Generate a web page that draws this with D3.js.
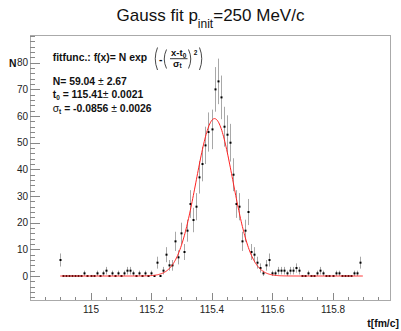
<!DOCTYPE html>
<html><head><meta charset="utf-8">
<script src="https://cdn.jsdelivr.net/npm/d3@7"></script>
<style>
body{margin:0;background:#fff}
svg{display:block}
text{font-family:"Liberation Sans",Arial,Helvetica,sans-serif}
</style>
</head><body>
<svg id="c" width="401" height="331"></svg>
<script>
// ---- data ----
const binStart = 114.90;
const binWidth = 0.01;
const counts = [
  6, 0, 0, 0, 0, 0, 0, 0, 1, 0,
  0, 0, 1, 0, 1, 2, 0, 1, 0, 1,
  0, 1, 2, 2, 1, 0, 1, 0, 1, 0,
  1, 0, 5, 0, 2, 8, 4, 4, 13, 7,
  16, 9, 17, 27, 21, 26, 37, 42, 49, 54,
  55, 70, 73, 67, 56, 53, 50, 38, 27, 26,
  13, 17, 24, 9, 8, 5, 3, 1, 4, 6,
  1, 1, 2, 2, 2, 1, 2, 2, 3, 2,
  0, 0, 1, 0, 0, 1, 2, 1, 0, 0,
  0, 1, 1, 0, 0, 0, 0, 1, 1, 5
];
const fitN = 59.04, fitT0 = 115.41, fitSigma = -0.0856;
const fitRange = [114.90, 115.90];
const xMajorTicks = [115, 115.2, 115.4, 115.6, 115.8];
const xMinorTicks = [114.85, 114.9, 114.95, 115.05, 115.1, 115.15, 115.25, 115.3, 115.35, 115.45, 115.5, 115.55, 115.65, 115.7, 115.75, 115.85, 115.9, 115.95];
const yMajorTicks = [0, 10, 20, 30, 40, 50, 60, 70, 80];
const yMinorTicks = [-8, -6, -4, -2, 2, 4, 6, 8, 12, 14, 16, 18, 22, 24, 26, 28, 32, 34, 36, 38, 42, 44, 46, 48, 52, 54, 56, 58, 62, 64, 66, 68, 72, 74, 76, 78, 82, 84, 86, 88, 90];

// ---- drawing ----
const svg = d3.select("#c");
svg.append("rect").attr("width", 401).attr("height", 331).attr("fill", "#fff");

const L = 30, R = 390, T = 35, B = 300;
const x = d3.scaleLinear().domain([114.8, 115.99]).range([L, R]);
const y = d3.scaleLinear().domain([-9, 90.4]).range([B, T]);

const axisCol = "#888";

// frame
svg.append("rect").attr("x", L).attr("y", T).attr("width", R - L).attr("height", B - T)
  .attr("fill", "none").attr("stroke", "#aaa").attr("stroke-width", 1).attr("shape-rendering", "crispEdges");

// x axis
const gx = svg.append("g").attr("transform", `translate(0,${B})`);
gx.call(d3.axisBottom(x).tickValues(xMajorTicks).tickSizeInner(-7).tickSizeOuter(0).tickPadding(6)
  .tickFormat(d3.format("~g")));
const gxm = svg.append("g").attr("transform", `translate(0,${B})`);
gxm.call(d3.axisBottom(x).tickValues(xMinorTicks).tickSizeInner(-3.5).tickSizeOuter(0).tickFormat(""));

// y axis
const gy = svg.append("g").attr("transform", `translate(${L},0)`);
gy.call(d3.axisLeft(y).tickValues(yMajorTicks).tickSizeInner(-10).tickSizeOuter(0).tickPadding(2));
const gym = svg.append("g").attr("transform", `translate(${L},0)`);
gym.call(d3.axisLeft(y).tickValues(yMinorTicks).tickSizeInner(-5).tickSizeOuter(0).tickFormat(""));

[gx, gxm, gy, gym].forEach(g => {
  g.select(".domain").remove();
  g.selectAll(".tick line").attr("stroke", axisCol).attr("shape-rendering", "crispEdges");
  g.selectAll(".tick text").attr("fill", "#222").style("font-size", "10px")
    .style("font-family", '"Liberation Sans",Arial,Helvetica,sans-serif');
});

// axis titles
svg.append("text").attr("x", 16.5).attr("y", 67).attr("text-anchor", "end")
  .style("font-size", "10.4px").style("font-weight", "bold").attr("fill", "#111").text("N");
svg.append("text").attr("x", 399).attr("y", 327).attr("text-anchor", "end")
  .style("font-size", "10.4px").style("font-weight", "bold").attr("fill", "#111").text("t[fm/c]");

// title
const title = svg.append("text").attr("x", 210.5).attr("y", 20.7).attr("text-anchor", "middle")
  .style("font-size", "17px").attr("fill", "#111");
title.append("tspan").text("Gauss fit p");
title.append("tspan").attr("dy", 7).style("font-size", "12px").text("init");
title.append("tspan").attr("dy", -7).text("=250 MeV/c");

// data points
const pts = counts.map((c, i) => ({ t: binStart + i * binWidth, n: c, e: Math.sqrt(c) }));
const gp = svg.append("g");
gp.selectAll("line.err").data(pts.filter(d => d.n > 0)).join("line").attr("class", "err")
  .attr("x1", d => Math.round(x(d.t)) + 0.5).attr("x2", d => Math.round(x(d.t)) + 0.5)
  .attr("y1", d => y(d.n - d.e)).attr("y2", d => y(d.n + d.e))
  .attr("stroke", "#a8a8a8").attr("stroke-width", 1);
gp.selectAll("rect.pt").data(pts).join("rect").attr("class", "pt")
  .attr("x", d => Math.round(x(d.t)) - 0.5).attr("y", d => y(d.n) - 1)
  .attr("width", 2).attr("height", 2).attr("fill", "#000");

// fit curve
const fx = d3.range(fitRange[0], fitRange[1] + 1e-9, 0.002);
const fitPts = fx.map(t => [t, fitN * Math.exp(-Math.pow((t - fitT0) / fitSigma, 2))]);
svg.append("path").datum(fitPts)
  .attr("d", d3.line().x(d => x(d[0])).y(d => y(d[1])))
  .attr("fill", "none").attr("stroke", "#ff2020").attr("stroke-width", 1);

// fit formula box
const fb = svg.append("g").attr("fill", "#111");
fb.append("text").attr("x", 52.7).attr("y", 61).style("font-size", "10.4px").style("font-weight", "bold")
  .text("fitfunc.: f(x)= N exp");
const paren = (x0, y0, y1, left) => {
  const xm = left ? x0 - 4.5 : x0 + 4.5;
  svg.append("path").attr("d", `M${x0},${y0} Q${xm},${(y0 + y1) / 2} ${x0},${y1}`)
    .attr("fill", "none").attr("stroke", "#333").attr("stroke-width", 0.9);
};
paren(157.5, 47.5, 70, true);
paren(166.5, 49.5, 68.5, true);
paren(188.5, 49.5, 68.5, false);
paren(199.5, 47.5, 70, false);
fb.append("text").attr("x", 159).attr("y", 63).style("font-size", "10.4px").style("font-weight", "bold").text("-");
const num = fb.append("text").attr("x", 171).attr("y", 56).style("font-size", "9.5px").style("font-weight", "bold");
num.append("tspan").text("x-t");
num.append("tspan").attr("dy", 1.5).style("font-size", "6.5px").text("0");
svg.append("line").attr("x1", 170).attr("x2", 187.5).attr("y1", 58.7).attr("y2", 58.7)
  .attr("stroke", "#222").attr("stroke-width", 0.9);
const den = fb.append("text").attr("x", 173).attr("y", 66.5).style("font-size", "9.5px").style("font-weight", "bold");
den.append("tspan").text("σ");
den.append("tspan").attr("dy", 1.5).style("font-size", "6.5px").text("t");
fb.append("text").attr("x", 193.8).attr("y", 54.5).style("font-size", "6.5px").style("font-weight", "bold").text("2");

const l1 = fb.append("text").attr("x", 52.7).attr("y", 85).style("font-size", "10.4px").style("font-weight", "bold");
l1.append("tspan").text("N= 59.04 ");
l1.append("tspan").style("font-weight", "normal").text("±");
l1.append("tspan").text(" 2.67");

const l2 = fb.append("text").attr("x", 52.7).attr("y", 97.5).style("font-size", "10.4px").style("font-weight", "bold");
l2.append("tspan").text("t");
l2.append("tspan").attr("dy", 2).style("font-size", "6.5px").text("0");
l2.append("tspan").attr("dy", -2).text(" = 115.41");
l2.append("tspan").style("font-weight", "normal").text("±");
l2.append("tspan").text(" 0.0021");

const l3 = fb.append("text").attr("x", 52.7).attr("y", 112).style("font-size", "10.4px").style("font-weight", "bold");
l3.append("tspan").style("font-weight", "normal").text("σ");
l3.append("tspan").attr("dy", 2).style("font-size", "6.5px").text("t");
l3.append("tspan").attr("dy", -2).text(" = -0.0856 ");
l3.append("tspan").style("font-weight", "normal").text("±");
l3.append("tspan").text(" 0.0026");
</script>
</body></html>
